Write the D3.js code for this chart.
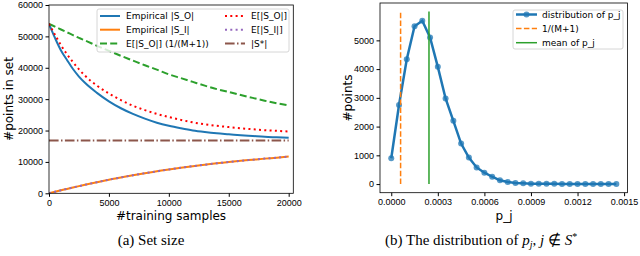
<!DOCTYPE html>
<html>
<head>
<meta charset="utf-8">
<script src="https://cdn.jsdelivr.net/npm/d3@7"></script>
<style>
  body { margin: 0; background: #fff; }
  svg { display: block; font-family: "DejaVu Sans", sans-serif; }
</style>
</head>
<body>
<div id="chart"></div>
<script>
// ---- data: left panel (set size vs #training samples) ----
const samples = [0, 500, 1000, 1500, 2000, 2500, 3000, 4000, 5000, 6000, 7000, 8000, 9000,
                 10000, 11000, 12000, 13000, 14000, 15000, 16000, 17000, 18000, 19000, 20000];
const empiricalSO = [54000, 49500, 45500, 42500, 39600, 37200, 35200, 32000, 29300, 27100, 25300, 23800, 22500,
                     21500, 20700, 20000, 19500, 19100, 18800, 18500, 18250, 18000, 17850, 17700];
const expectedSO  = [54000, 50500, 47200, 44300, 41800, 39500, 37500, 34300, 31800, 29700, 27900, 26500, 25300,
                     24300, 23400, 22600, 22000, 21500, 21100, 20700, 20400, 20100, 19900, 19700];
const expectedSOm = [54000, 53100, 52200, 51300, 50400, 49500, 48700, 47000, 45400, 43800, 42300, 40800, 39400,
                     37900, 36700, 35500, 34300, 33200, 32300, 31300, 30400, 29500, 28700, 28000];
const empiricalSI = [0, 480, 950, 1400, 1850, 2280, 2700, 3550, 4350, 5050, 5750, 6400, 7000,
                     7600, 8150, 8650, 9100, 9550, 9950, 10350, 10700, 11050, 11350, 11700];
const expectedSI  = [0, 480, 950, 1400, 1850, 2280, 2700, 3550, 4350, 5050, 5750, 6400, 7000,
                     7600, 8150, 8650, 9100, 9550, 9950, 10350, 10700, 11050, 11350, 11700];
const sStar = 16800;
const leftXTicks = [0, 5000, 10000, 15000, 20000];
const leftYTicks = [0, 10000, 20000, 30000, 40000, 50000, 60000];

// ---- data: right panel (distribution of p_j) ----
const pjBins = [0.00000, 0.00005, 0.00010, 0.00015, 0.00020, 0.00025, 0.00030, 0.00035, 0.00040, 0.00045,
                0.00050, 0.00055, 0.00060, 0.00065, 0.00070, 0.00075, 0.00080, 0.00085, 0.00090, 0.00095,
                0.00100, 0.00105, 0.00110, 0.00115, 0.00120, 0.00125, 0.00130, 0.00135, 0.00140, 0.00145];
const pjCounts = [900, 2750, 4340, 5490, 5680, 5100, 4080, 2980, 2200, 1410,
                  925, 580, 395, 255, 130, 70, 40, 25, 15, 12,
                  10, 8, 6, 5, 4, 3, 2, 2, 1, 1];
const invM1 = 0.0000602;
const pjMean = 0.000243;
const rightXTicks = [0, 0.0003, 0.0006, 0.0009, 0.0012, 0.0015];
const rightYTicks = [0, 1000, 2000, 3000, 4000, 5000];

const svg = d3.select("#chart")
  .append("svg")
  .attr("width", 640)
  .attr("height", 256);

// helper for a framed matplotlib-like axes
function drawFrame(g, x, y, xTicks, yTicks, xFmt, yFmt) {
  const [x0, x1] = x.range();
  const [y0, y1] = y.range();
  g.append("g")
    .attr("transform", `translate(0,${y0})`)
    .call(d3.axisBottom(x).tickValues(xTicks).tickFormat(xFmt).tickSizeOuter(0).tickSize(3.5).tickPadding(2.5))
    .call(a => a.select(".domain").remove())
    .selectAll("text").style("font-size", "9px").attr("fill", "#000");
  g.append("g")
    .attr("transform", `translate(${x0},0)`)
    .call(d3.axisLeft(y).tickValues(yTicks).tickFormat(yFmt).tickSizeOuter(0).tickSize(3.5).tickPadding(2.5))
    .call(a => a.select(".domain").remove())
    .selectAll("text").style("font-size", "9px").attr("fill", "#000");
  g.append("rect")
    .attr("x", x0).attr("y", y1)
    .attr("width", x1 - x0).attr("height", y0 - y1)
    .attr("fill", "none").attr("stroke", "#000").attr("stroke-width", 0.8);
}

// ================= left panel =================
const xL = d3.scaleLinear().domain([0, 20385]).range([49, 293.3]);
const yL = d3.scaleLinear().domain([0, 60000]).range([193.3, 5]);

const left = svg.append("g");
const clipL = svg.append("clipPath").attr("id", "clipL")
  .append("rect").attr("x", 49).attr("y", 5).attr("width", 244.3).attr("height", 188.3);

const lineL = vals => d3.line()
  .x((d, i) => xL(samples[i]))
  .y(d => yL(d))
  .curve(d3.curveMonotoneX)(vals);

const plotL = left.append("g").attr("clip-path", "url(#clipL)");

const leftSeries = [
  { name: "Empirical |S_O|", vals: empiricalSO, color: "#1f77b4", dash: null, w: 2 },
  { name: "Empirical |S_I|", vals: empiricalSI, color: "#ff7f0e", dash: null, w: 2 },
  { name: "E[|S_O|] (1/(M+1))", vals: expectedSOm, color: "#2ca02c", dash: "7,3.2", w: 2 },
  { name: "E[|S_O|]", vals: expectedSO, color: "#ff0000", dash: "2,3.3", w: 2 },
  { name: "E[|S_I|]", vals: expectedSI, color: "#9467bd", dash: "2,3.3", w: 2 },
  { name: "|S*|", vals: null, color: "#8c564b", dash: "9.6,2.4,1.5,2.4", w: 1.5 }
];

leftSeries.forEach(s => {
  if (s.vals) {
    plotL.append("path")
      .attr("d", lineL(s.vals))
      .attr("fill", "none")
      .attr("stroke", s.color)
      .attr("stroke-width", s.w)
      .attr("stroke-dasharray", s.dash);
  } else {
    plotL.append("line")
      .attr("x1", xL(0)).attr("x2", xL(20000))
      .attr("y1", yL(sStar)).attr("y2", yL(sStar))
      .attr("stroke", s.color)
      .attr("stroke-width", 2)
      .attr("stroke-dasharray", s.dash);
  }
});

drawFrame(left, xL, yL, leftXTicks, leftYTicks, d3.format("d"), d3.format("d"));

left.append("text")
  .attr("x", 171).attr("y", 220)
  .style("text-anchor", "middle").style("font-size", "12px")
  .text("#training samples");

left.append("text")
  .attr("transform", "rotate(-90)")
  .attr("x", -99).attr("y", 13)
  .style("text-anchor", "middle").style("font-size", "12px")
  .text("#points in set");

// legend (two columns, three rows)
const legL = left.append("g");
legL.append("rect")
  .attr("x", 97).attr("y", 9).attr("width", 192).attr("height", 43).attr("rx", 2)
  .attr("fill", "#fff").attr("fill-opacity", 0.8)
  .attr("stroke", "#ccc").attr("stroke-width", 0.8);
leftSeries.forEach((s, i) => {
  const col = i < 3 ? 0 : 1;
  const row = i % 3;
  const hx = col === 0 ? 100 : 225;
  const ty = 16 + row * 13.7;
  legL.append("line")
    .attr("x1", hx).attr("x2", hx + 20)
    .attr("y1", ty).attr("y2", ty)
    .attr("stroke", s.color)
    .attr("stroke-width", s.w === 1.5 ? 2 : s.w)
    .attr("stroke-dasharray", s.dash);
  legL.append("text")
    .attr("x", hx + 26).attr("y", ty + 3.2)
    .style("font-size", "9px")
    .text(s.name);
});

// ================= right panel =================
const xR = d3.scaleLinear().domain([-0.0000725, 0.0015225]).range([380, 627.6]);
const yR = d3.scaleLinear().domain([-300, 6300]).range([192.7, 3]);

const right = svg.append("g");

right.append("path")
  .datum(pjCounts)
  .attr("fill", "none")
  .attr("stroke", "#1f77b4")
  .attr("stroke-width", 2.5)
  .attr("d", d3.line().x((d, i) => xR(pjBins[i])).y(d => yR(d)));

right.selectAll(".dot")
  .data(pjCounts)
  .enter()
  .append("circle")
  .attr("cx", (d, i) => xR(pjBins[i]))
  .attr("cy", d => yR(d))
  .attr("r", 3)
  .attr("fill", "#1f77b4")
  .attr("fill-opacity", 0.75);

right.append("line")
  .attr("x1", xR(invM1)).attr("x2", xR(invM1))
  .attr("y1", yR(0)).attr("y2", yR(6000))
  .attr("stroke", "#ff7f0e").attr("stroke-width", 1.5)
  .attr("stroke-dasharray", "5.5,2.4");

right.append("line")
  .attr("x1", xR(pjMean)).attr("x2", xR(pjMean))
  .attr("y1", yR(0)).attr("y2", yR(6000))
  .attr("stroke", "#2ca02c").attr("stroke-width", 1.5);

drawFrame(right, xR, yR, rightXTicks, rightYTicks, d3.format(".4f"), d3.format("d"));

right.append("text")
  .attr("x", 504).attr("y", 220)
  .style("text-anchor", "middle").style("font-size", "12px")
  .text("p_j");

right.append("text")
  .attr("transform", "rotate(-90)")
  .attr("x", -98).attr("y", 352)
  .style("text-anchor", "middle").style("font-size", "12px")
  .text("#points");

const legR = right.append("g");
legR.append("rect")
  .attr("x", 513).attr("y", 10).attr("width", 110).attr("height", 39).attr("rx", 2)
  .attr("fill", "#fff").attr("fill-opacity", 0.8)
  .attr("stroke", "#ccc").attr("stroke-width", 0.8);
const rightLegend = [
  { name: "distribution of p_j", color: "#1f77b4", dash: null, w: 2.5, marker: true },
  { name: "1/(M+1)", color: "#ff7f0e", dash: "5.5,2.4", w: 1.5, marker: false },
  { name: "mean of p_j", color: "#2ca02c", dash: null, w: 1.5, marker: false }
];
rightLegend.forEach((s, i) => {
  const ty = 14.5 + i * 14.1;
  legR.append("line")
    .attr("x1", 516).attr("x2", 537)
    .attr("y1", ty).attr("y2", ty)
    .attr("stroke", s.color).attr("stroke-width", s.w)
    .attr("stroke-dasharray", s.dash);
  if (s.marker) {
    legR.append("circle")
      .attr("cx", 526.5).attr("cy", ty).attr("r", 3)
      .attr("fill", s.color).attr("fill-opacity", 0.75);
  }
  legR.append("text")
    .attr("x", 542).attr("y", ty + 3.2)
    .style("font-size", "9px")
    .text(s.name);
});

// ================= captions =================
svg.append("text")
  .attr("x", 151).attr("y", 245)
  .style("text-anchor", "middle")
  .style("font-family", "'Liberation Serif', serif")
  .style("font-size", "15px")
  .text("(a) Set size");

const capB = svg.append("text")
  .attr("x", 385).attr("y", 245)
  .style("font-family", "'Liberation Serif', serif")
  .style("font-size", "15px");
capB.append("tspan").text("(b) The distribution of ");
capB.append("tspan").style("font-style", "italic").text("p");
capB.append("tspan").attr("dy", 3).style("font-style", "italic").style("font-size", "10px").text("j");
capB.append("tspan").attr("dy", -3).text(", ");
capB.append("tspan").style("font-style", "italic").text("j");
capB.append("tspan").text(" \u2209 ");
capB.append("tspan").style("font-style", "italic").text("S");
capB.append("tspan").attr("dy", -5).style("font-size", "10px").text("*");
</script>
</body>
</html>
